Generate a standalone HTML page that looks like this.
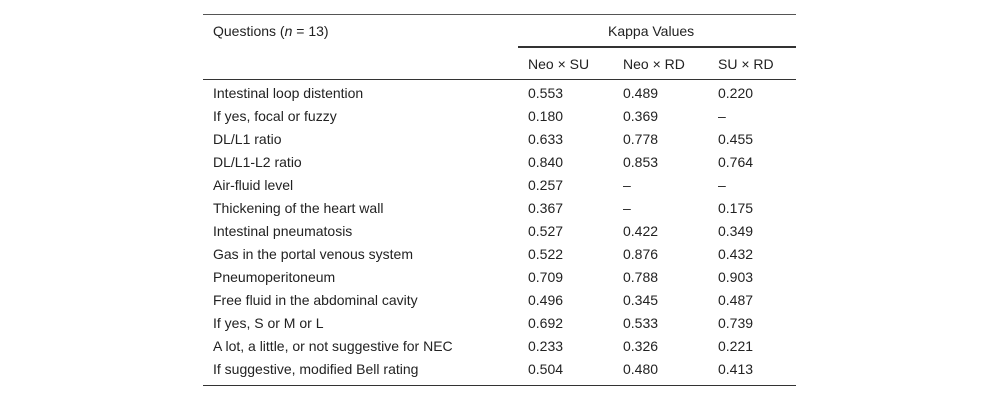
<!DOCTYPE html>
<html><head><meta charset="utf-8">
<style>
body{margin:0;width:1000px;height:402px;background:#fff;position:relative;font-family:"Liberation Sans",sans-serif;font-size:14px;color:#222;overflow:hidden}
.l{position:absolute;background:#333}
.t{position:absolute;line-height:16px;white-space:nowrap}
</style></head><body>
<div class="l" style="left:203px;top:14px;width:593px;height:1px;background:#555"></div>
<div class="t" style="left:213px;top:23px">Questions (<i>n</i> = 13)</div>
<div class="t" style="left:608px;top:23px">Kappa Values</div>
<div class="l" style="left:518px;top:46px;width:278px;height:2px"></div>
<div class="t" style="left:528px;top:56px">Neo × SU</div>
<div class="t" style="left:623px;top:56px">Neo × RD</div>
<div class="t" style="left:718px;top:56px">SU × RD</div>
<div class="l" style="left:203px;top:79px;width:593px;height:1px"></div>
<div id="rows"></div>
<div class="l" style="left:203px;top:385px;width:593px;height:1px"></div>
<script>
const questions=["Intestinal loop distention","If yes, focal or fuzzy","DL/L1 ratio","DL/L1-L2 ratio","Air-fluid level","Thickening of the heart wall","Intestinal pneumatosis","Gas in the portal venous system","Pneumoperitoneum","Free fluid in the abdominal cavity","If yes, S or M or L","A lot, a little, or not suggestive for NEC","If suggestive, modified Bell rating"];
const neoSU=["0.553","0.180","0.633","0.840","0.257","0.367","0.527","0.522","0.709","0.496","0.692","0.233","0.504"];
const neoRD=["0.489","0.369","0.778","0.853","–","–","0.422","0.876","0.788","0.345","0.533","0.326","0.480"];
const suRD=["0.220","–","0.455","0.764","–","0.175","0.349","0.432","0.903","0.487","0.739","0.221","0.413"];
const c=document.getElementById('rows');
questions.forEach((q,i)=>{
  const y=85+i*23;
  [[q,213,'question'],[neoSU[i],528,'neo-su'],[neoRD[i],623,'neo-rd'],[suRD[i],718,'su-rd']].forEach(([v,x,n])=>{
    const d=document.createElement('div');d.className='t';
    d.style.left=x+'px';d.style.top=y+'px';d.textContent=v;
    
    
    c.appendChild(d);
  });
});
</script>
</body></html>
